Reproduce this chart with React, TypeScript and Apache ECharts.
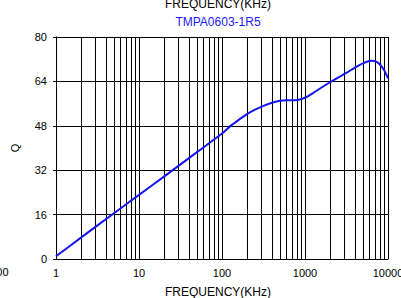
import React, { useEffect, useRef } from "react";
import * as echarts from "echarts";

const freqKHz = [1, 2, 5, 10, 20, 50, 100, 125, 160, 200, 250, 315, 400, 500, 630, 800, 1000, 1250, 1600, 2000, 2500, 3150, 4000, 5000, 6300, 7100, 8000, 9000, 10000];
const qValues = [1, 7.7, 16.5, 23.1, 29.7, 38.5, 45.2, 47.8, 50.2, 52.2, 53.8, 55.2, 56.3, 57.0, 57.2, 57.3, 58.1, 59.8, 61.9, 63.7, 65.4, 67.1, 69.0, 70.5, 71.4, 71.2, 70.1, 68.0, 65.1];
const minorGridFreqs = [2, 3, 4, 5, 6, 7, 8, 9, 20, 30, 40, 50, 60, 70, 80, 90, 200, 300, 400, 500, 600, 700, 800, 900, 2000, 3000, 4000, 5000, 6000, 7000, 8000, 9000];
const yTicks = [0, 16, 32, 48, 64, 80];
const titleText = "FREQUENCY(KHz)";
const subtitleText = "TMPA0603-1R5";
const xName = "FREQUENCY(KHz)";
const yName = "Q";

export default function App() {
  const ref = useRef<HTMLDivElement>(null);
  useEffect(() => {
    if (!ref.current) return;
    const chart = echarts.init(ref.current, undefined, { renderer: "svg" });
    const font = "'Liberation Sans', Arial, sans-serif";
    chart.setOption({
      animation: false,
      backgroundColor: "#ffffff",
      grid: { left: 56, top: 37, right: 13, bottom: 39, containLabel: false, outerBoundsMode: "none" },
      xAxis: {
        type: "log",
        logBase: 10,
        min: 1,
        max: 10000,
        axisLine: { show: true, lineStyle: { color: "#000", width: 1 } },
        axisTick: { show: false },
        axisLabel: {
          color: "#000",
          fontSize: 11,
          fontFamily: font,
          margin: 8,
          alignMinLabel: "center",
          alignMaxLabel: "center",
          hideOverlap: false,
          formatter: (v: number) => String(Math.round(v)),
        },
        splitLine: { show: true, lineStyle: { color: "#000", width: 1 } },
        minorTick: { show: false },
        minorSplitLine: { show: false },
      },
      yAxis: {
        type: "value",
        min: yTicks[0],
        max: yTicks[yTicks.length - 1],
        interval: 16,
        axisLine: { show: true, lineStyle: { color: "#000", width: 1 } },
        axisTick: { show: true, length: 3, lineStyle: { color: "#000" } },
        axisLabel: { color: "#000", fontSize: 11, fontFamily: font, margin: 9 },
        splitLine: { show: true, lineStyle: { color: "#000", width: 1 } },
      },
      series: [
        {
          type: "line",
          data: freqKHz.map((f, i) => [f, qValues[i]]),
          smooth: 0.3,
          showSymbol: false,
          lineStyle: { color: "#1414f0", width: 2 },
          z: 5,
          markLine: {
            silent: true,
            symbol: ["none", "none"],
            label: { show: false },
            lineStyle: { color: "#000", width: 1, type: "solid" },
            data: minorGridFreqs.map((f) => ({ xAxis: f })),
            z: 1,
          },
        },
      ],
      graphic: [
        { type: "text", x: 218, y: 4, style: { text: titleText, fill: "#000", font: `12px ${font}`, textAlign: "center", textVerticalAlign: "middle" } },
        { type: "text", x: 218, y: 21.7, style: { text: subtitleText, fill: "#1a1aff", font: `12px ${font}`, textAlign: "center", textVerticalAlign: "middle" } },
        { type: "text", x: 218, y: 292, style: { text: xName, fill: "#000", font: `12px ${font}`, textAlign: "center", textVerticalAlign: "middle" } },
        { type: "text", x: 14.5, y: 148, rotation: Math.PI / 2, style: { text: yName, fill: "#000", font: `11px ${font}`, textAlign: "center", textVerticalAlign: "middle" } },
        { type: "text", x: 8.5, y: 272, style: { text: "100", fill: "#000", font: `11px ${font}`, textAlign: "right", textVerticalAlign: "middle" } },
      ],
    });
    return () => chart.dispose();
  }, []);
  return <div ref={ref} style={{ position: "fixed", left: 0, top: 0, width: 401, height: 298 }} />;
}
